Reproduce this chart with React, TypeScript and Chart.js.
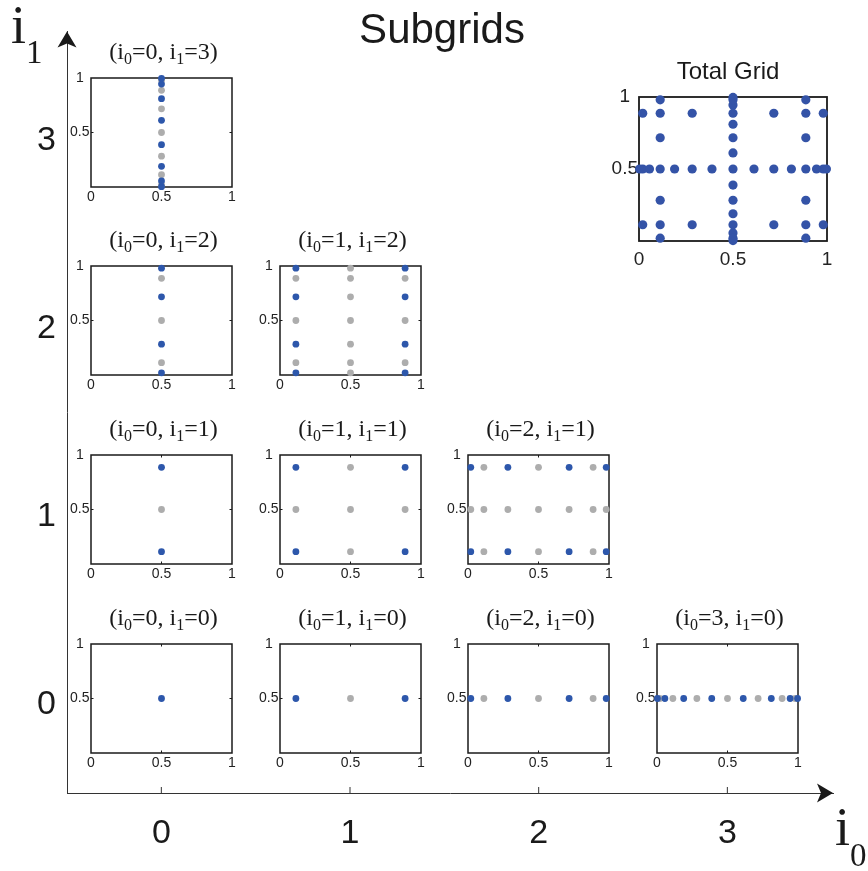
import React, { useEffect, useRef } from "react";
import { Chart, registerables } from "chart.js";

Chart.register(...registerables);

// ---- data: nested 1-D node sets on [0, 1] for each level
const LEVEL_0 = [0.5];
const LEVEL_1 = [0.1127, 0.5, 0.8873];
const LEVEL_2 = [0.0198, 0.1127, 0.2829, 0.5, 0.7171, 0.8873, 0.9802];
const LEVEL_3 = [
  0.0031, 0.0198, 0.0558, 0.1127, 0.1894, 0.2829, 0.3883, 0.5, 0.6117, 0.7171,
  0.8106, 0.8873, 0.9442, 0.9802, 0.9969,
];
// nodes that are new at each level (drawn blue)
const NEW_0 = [0.5];
const NEW_1 = [0.1127, 0.8873];
const NEW_2 = [0.0198, 0.2829, 0.7171, 0.9802];
const NEW_3 = [0.0031, 0.0558, 0.1894, 0.3883, 0.6117, 0.8106, 0.9442, 0.9969];

const LEVELS = [LEVEL_0, LEVEL_1, LEVEL_2, LEVEL_3];
const NEW_NODES = [NEW_0, NEW_1, NEW_2, NEW_3];

// subgrids shown: (i0, i1)
const SUBGRID_I0 = [0, 0, 1, 0, 1, 2, 0, 1, 2, 3];
const SUBGRID_I1 = [3, 2, 2, 1, 1, 1, 0, 0, 0, 0];

// tick values / labels
const UNIT_X_TICKS = [0, 0.5, 1];
const UNIT_Y_TICKS = [0.5, 1];
const LEVEL_TICKS = [0, 1, 2, 3];
const LEVEL_TICK_LABELS = ["0", "1", "2", "3"];

// ---- styles
const SANS = "'Liberation Sans', Arial, Helvetica, sans-serif";
const SERIF = "'Liberation Serif', 'Times New Roman', Times, serif";
const BLUE = "#2d57ab";
const TOTAL_BLUE = "#3453a7";
const GRAY = "#adadad";
const INK = "#1a1a1a";

type Part = { t: string; sub?: boolean };

function drawRich(
  ctx: CanvasRenderingContext2D,
  parts: Part[],
  x: number,
  baseline: number,
  size: number,
  subSize: number,
  subDrop: number,
  family: string,
  align: "center" | "left"
) {
  ctx.save();
  ctx.fillStyle = INK;
  ctx.textAlign = "left";
  ctx.textBaseline = "alphabetic";
  const widths = parts.map((p) => {
    ctx.font = `${p.sub ? subSize : size}px ${family}`;
    return ctx.measureText(p.t).width;
  });
  const total = widths.reduce((a, b) => a + b, 0);
  let cx = align === "center" ? x - total / 2 : x;
  parts.forEach((p, i) => {
    ctx.font = `${p.sub ? subSize : size}px ${family}`;
    ctx.fillText(p.t, cx, baseline + (p.sub ? subDrop : 0));
    cx += widths[i];
  });
  ctx.restore();
}

function makeFramePlugin(lineWidth: number, tick: number) {
  return {
    id: "frame",
    beforeDatasetsDraw(chart: any) {
      const { ctx, chartArea: a, scales } = chart;
      ctx.save();
      ctx.strokeStyle = INK;
      ctx.lineWidth = lineWidth;
      ctx.strokeRect(a.left, a.top, a.right - a.left, a.bottom - a.top);
      const px = scales.x.getPixelForValue(0.5);
      const py = scales.y.getPixelForValue(0.5);
      ctx.lineWidth = 1;
      ctx.beginPath();
      ctx.moveTo(px, a.bottom);
      ctx.lineTo(px, a.bottom - tick);
      ctx.moveTo(px, a.top);
      ctx.lineTo(px, a.top + tick);
      ctx.moveTo(a.left, py);
      ctx.lineTo(a.left + tick, py);
      ctx.moveTo(a.right, py);
      ctx.lineTo(a.right - tick, py);
      ctx.stroke();
      ctx.restore();
    },
  };
}

function unitScales(fontSize: number, xPad: number, yPad: number, yAxisW: number, xAxisH: number) {
  const font = { family: SANS, size: fontSize };
  return {
    x: {
      type: "linear" as const,
      min: 0,
      max: 1,
      afterBuildTicks: (s: any) => {
        s.ticks = UNIT_X_TICKS.map((v) => ({ value: v }));
      },
      afterFit: (s: any) => {
        s.height = xAxisH;
      },
      grid: { display: false, drawTicks: false },
      border: { display: false },
      ticks: {
        padding: xPad,
        color: "#222",
        font,
        maxRotation: 0,
        autoSkip: false,
        callback: (v: any) => String(v),
      },
    },
    y: {
      type: "linear" as const,
      min: 0,
      max: 1,
      afterBuildTicks: (s: any) => {
        s.ticks = UNIT_Y_TICKS.map((v) => ({ value: v }));
      },
      afterFit: (s: any) => {
        s.width = yAxisW;
      },
      grid: { display: false, drawTicks: false },
      border: { display: false },
      ticks: {
        padding: yPad,
        crossAlign: "center" as const,
        color: "#222",
        font,
        autoSkip: false,
        callback: (v: any) => String(v),
      },
    },
  };
}

// ---- big level axes (i0, i1) with arrows
function AxesFrame() {
  const ref = useRef<HTMLCanvasElement>(null);
  useEffect(() => {
    const framePlugin = {
      id: "levelAxes",
      afterDraw(chart: any) {
        const { ctx, chartArea: a, scales } = chart;
        ctx.save();
        ctx.strokeStyle = "#333";
        ctx.lineWidth = 1;
        ctx.beginPath();
        LEVEL_TICKS.forEach((v) => {
          const px = scales.x.getPixelForValue(v);
          ctx.moveTo(px, a.bottom);
          ctx.lineTo(px, a.bottom - 6);
        });
        ctx.stroke();
        ctx.fillStyle = INK;
        // right arrow
        const R = a.right, B = a.bottom;
        ctx.beginPath();
        ctx.moveTo(R, B);
        ctx.lineTo(R - 16, B - 9.5);
        ctx.lineTo(R - 12, B);
        ctx.lineTo(R - 16, B + 9.5);
        ctx.closePath();
        ctx.fill();
        // up arrow
        const L = a.left, T = a.top;
        ctx.beginPath();
        ctx.moveTo(L, T);
        ctx.lineTo(L - 9.5, T + 16);
        ctx.lineTo(L, T + 12);
        ctx.lineTo(L + 9.5, T + 16);
        ctx.closePath();
        ctx.fill();
        // title
        ctx.font = `42px ${SANS}`;
        ctx.textAlign = "center";
        ctx.textBaseline = "alphabetic";
        ctx.fillText("Subgrids", 442, 43);
        ctx.restore();
        drawRich(ctx, [{ t: "i" }, { t: "1", sub: true }], 11, 43, 54, 33, 20, SERIF, "left");
        drawRich(ctx, [{ t: "i" }, { t: "0", sub: true }], 835, 845, 54, 33, 21, SERIF, "left");
      },
    };
    const font = { family: SANS, size: 34 };
    const chart = new Chart(ref.current as HTMLCanvasElement, {
      type: "scatter",
      data: { datasets: [] },
      options: {
        animation: false,
        responsive: false,
        events: [],
        layout: { padding: { top: 28, right: 35, left: 0, bottom: 0 } },
        plugins: { legend: { display: false }, tooltip: { enabled: false } },
        scales: {
          x: {
            type: "linear",
            min: -0.5,
            max: 3.56,
            afterBuildTicks: (s: any) => {
              s.ticks = LEVEL_TICKS.map((v) => ({ value: v }));
            },
            afterFit: (s: any) => {
              s.height = 78;
            },
            grid: { display: false, drawTicks: false },
            border: { display: true, color: "#333", width: 1 },
            ticks: {
              padding: 20,
              color: INK,
              font,
              maxRotation: 0,
              autoSkip: false,
              callback: (_v: any, i: number) => LEVEL_TICK_LABELS[i],
            },
          },
          y: {
            type: "linear",
            min: -0.47,
            max: 3.58,
            afterBuildTicks: (s: any) => {
              s.ticks = LEVEL_TICKS.map((v) => ({ value: v }));
            },
            afterFit: (s: any) => {
              s.width = 67;
            },
            grid: { display: false, drawTicks: false },
            border: { display: true, color: "#333", width: 1 },
            ticks: {
              padding: 11,
              color: INK,
              font,
              autoSkip: false,
              callback: (_v: any, i: number) => LEVEL_TICK_LABELS[i],
            },
          },
        },
      },
      plugins: [framePlugin],
    });
    return () => chart.destroy();
  }, []);
  return (
    <canvas
      ref={ref}
      width={868}
      height={871}
      style={{ position: "absolute", left: 0, top: 0, width: 868, height: 871, display: "block" }}
    />
  );
}

// ---- one subgrid panel
const SUB_W = 141;
const SUB_H = 109;
const SUB_Y_AXIS = 40;
const SUB_X_AXIS = 26;
const SUB_PAD_TOP = 45;
const SUB_PAD_RIGHT = 12;
const COL_PITCH = 188.7;
const ROW_PITCH = 188.8;

function SubPlot({ i0, i1 }: { i0: number; i1: number }) {
  const ref = useRef<HTMLCanvasElement>(null);
  const boxLeft = Math.round(91 + COL_PITCH * i0);
  const boxTop = Math.round(644 - ROW_PITCH * i1);
  const cw = SUB_Y_AXIS + SUB_W + SUB_PAD_RIGHT;
  const chh = SUB_PAD_TOP + SUB_H + SUB_X_AXIS;
  useEffect(() => {
    const blue: { x: number; y: number }[] = [];
    const gray: { x: number; y: number }[] = [];
    for (const y of LEVELS[i1]) {
      for (const x of LEVELS[i0]) {
        const isNew = NEW_NODES[i0].includes(x) && NEW_NODES[i1].includes(y);
        (isNew ? blue : gray).push({ x, y });
      }
    }
    const titlePlugin = {
      id: "subTitle",
      afterDraw(chart: any) {
        const a = chart.chartArea;
        drawRich(
          chart.ctx,
          [
            { t: "(i" },
            { t: "0", sub: true },
            { t: `=${i0}, i` },
            { t: "1", sub: true },
            { t: `=${i1})` },
          ],
          (a.left + a.right) / 2 + 2,
          a.top - 19,
          24,
          16,
          5,
          SERIF,
          "center"
        );
      },
    };
    const chart = new Chart(ref.current as HTMLCanvasElement, {
      type: "scatter",
      data: {
        datasets: [
          { data: blue, backgroundColor: BLUE, borderWidth: 0, pointRadius: 3.4, clip: false as any },
          { data: gray, backgroundColor: GRAY, borderWidth: 0, pointRadius: 3.4, clip: false as any },
        ],
      },
      options: {
        animation: false,
        responsive: false,
        events: [],
        layout: { padding: { top: SUB_PAD_TOP, right: SUB_PAD_RIGHT, left: 0, bottom: 0 } },
        plugins: { legend: { display: false }, tooltip: { enabled: false } },
        scales: unitScales(14, 1.3, 1.5, SUB_Y_AXIS, SUB_X_AXIS) as any,
      },
      plugins: [makeFramePlugin(1.5, 2.5), titlePlugin],
    });
    return () => chart.destroy();
  }, [i0, i1]);
  return (
    <canvas
      ref={ref}
      width={cw}
      height={chh}
      style={{
        position: "absolute",
        left: boxLeft - SUB_Y_AXIS,
        top: boxTop - SUB_PAD_TOP,
        width: cw,
        height: chh,
        display: "block",
      }}
    />
  );
}

// ---- total grid panel
const TOT_LEFT = 639;
const TOT_TOP = 97;
const TOT_W = 188;
const TOT_H = 144;
const TOT_Y_AXIS = 45;
const TOT_X_AXIS = 34;
const TOT_PAD_TOP = 45;
const TOT_PAD_RIGHT = 16;

function TotalGrid() {
  const ref = useRef<HTMLCanvasElement>(null);
  const cw = TOT_Y_AXIS + TOT_W + TOT_PAD_RIGHT;
  const chh = TOT_PAD_TOP + TOT_H + TOT_X_AXIS;
  useEffect(() => {
    const pts: { x: number; y: number }[] = [];
    SUBGRID_I0.forEach((i0, k) => {
      const i1 = SUBGRID_I1[k];
      for (const y of NEW_NODES[i1]) for (const x of NEW_NODES[i0]) pts.push({ x, y });
    });
    const titlePlugin = {
      id: "totTitle",
      afterDraw(chart: any) {
        const { ctx, chartArea: a } = chart;
        ctx.save();
        ctx.fillStyle = INK;
        ctx.font = `24px ${SANS}`;
        ctx.textAlign = "center";
        ctx.textBaseline = "alphabetic";
        ctx.fillText("Total Grid", (a.left + a.right) / 2 - 5, a.top - 18.5);
        ctx.restore();
      },
    };
    const chart = new Chart(ref.current as HTMLCanvasElement, {
      type: "scatter",
      data: {
        datasets: [
          { data: pts, backgroundColor: TOTAL_BLUE, borderWidth: 0, pointRadius: 4.6, clip: false as any },
        ],
      },
      options: {
        animation: false,
        responsive: false,
        events: [],
        layout: { padding: { top: TOT_PAD_TOP, right: TOT_PAD_RIGHT, left: 0, bottom: 0 } },
        plugins: { legend: { display: false }, tooltip: { enabled: false } },
        scales: unitScales(19, 7, 1, TOT_Y_AXIS, TOT_X_AXIS) as any,
      },
      plugins: [makeFramePlugin(1.8, 4), titlePlugin],
    });
    return () => chart.destroy();
  }, []);
  return (
    <canvas
      ref={ref}
      width={cw}
      height={chh}
      style={{
        position: "absolute",
        left: TOT_LEFT - TOT_Y_AXIS,
        top: TOT_TOP - TOT_PAD_TOP,
        width: cw,
        height: chh,
        display: "block",
      }}
    />
  );
}

export default function App() {
  return (
    <div
      style={{
        position: "fixed",
        left: 0,
        top: 0,
        width: 868,
        height: 871,
        background: "#fff",
        overflow: "hidden",
      }}
    >
      <AxesFrame />
      {SUBGRID_I0.map((i0, k) => (
        <SubPlot key={k} i0={i0} i1={SUBGRID_I1[k]} />
      ))}
      <TotalGrid />
    </div>
  );
}
